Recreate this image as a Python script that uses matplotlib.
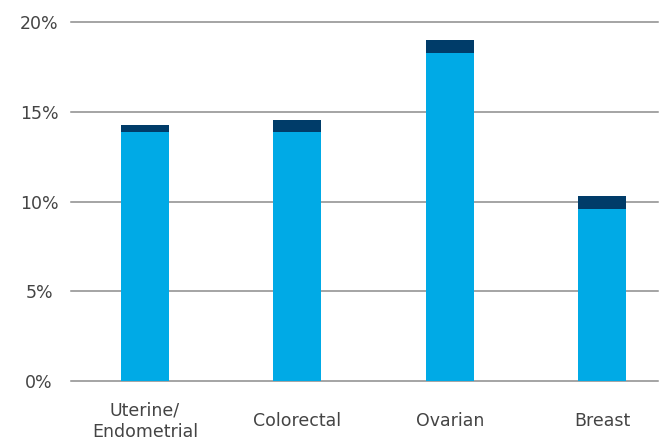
import matplotlib.pyplot as plt
import numpy as np

categories = ['Uterine/\nEndometrial', 'Colorectal', 'Ovarian', 'Breast']
base_values = [13.9, 13.9, 18.3, 9.6]
extra_values = [0.35, 0.65, 0.68, 0.7]
y_ticks = [0, 5, 10, 15, 20]
y_labels = ['0%', '5%', '10%', '15%', '20%']

light_blue = '#00AAE6'
dark_blue = '#003C69'
text_color = '#444444'

fig = plt.figure(figsize=(6.6, 4.43), dpi=100)
ax = fig.add_axes([0.1076, 0.14, 0.8894, 0.81])

x = np.arange(len(categories))
ax.bar(x, base_values, width=0.315, color=light_blue, zorder=3)
ax.bar(x, extra_values, width=0.315, bottom=base_values, color=dark_blue, zorder=3)

ax.set_ylim(0, 20)
ax.set_xlim(-0.485, 3.367)

ax.set_yticks(y_ticks)
ax.set_yticklabels(y_labels, ha='center', fontsize=12.5, color=text_color)
ax.tick_params(axis='y', length=0, pad=23)

ax.set_xticks(x)
ax.set_xticklabels(categories, va='center', fontsize=12.5, color=text_color,
                   linespacing=1.25)
ax.tick_params(axis='x', length=0, pad=29)

ax.yaxis.grid(True, color='#8c8c8c', linewidth=1.1, zorder=0)
ax.set_axisbelow(True)
for s in ax.spines.values():
    s.set_visible(False)
for line in ax.get_ygridlines():
    line.set_clip_on(False)

fig.savefig('out.png', dpi=100)
